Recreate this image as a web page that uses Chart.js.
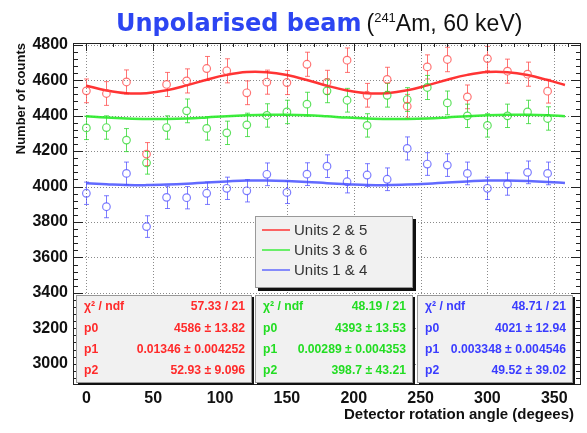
<!DOCTYPE html>
<html><head><meta charset="utf-8">
<script src="https://cdn.jsdelivr.net/npm/chart.js@4/dist/chart.umd.min.js"></script>
<style>
html,body{margin:0;padding:0;background:#fff;}
#wrap{position:relative;width:587px;height:433px;overflow:hidden;}
#title{position:absolute;left:116px;top:8px;white-space:nowrap;line-height:30px;}
#title .t1{font-family:'DejaVu Sans';font-weight:bold;font-size:24px;color:#2c45f2;}
#title .t2{font-family:'Liberation Sans';font-size:23px;color:#111;margin-left:5px;}
#title sup{font-size:13px;vertical-align:9px;line-height:0;}
</style></head><body>
<div id="wrap"><canvas id="c" width="587" height="433"></canvas>
<div id="title"><span class="t1">Unpolarised beam</span><span class="t2">(<sup>241</sup>Am, 60 keV)</span></div></div>
<script>
// ---- data ----
const angles = [0,15,30,45,60,75,90,105,120,135,150,165,180,195,210,225,240,255,270,285,300,315,330,345];
const countsUnits25 = [4540,4525,4590,4183,4576,4596,4666,4653,4529,4589,4587,4690,4588,4713,4515,4605,4453,4675,4717,4506,4722,4651,4634,4538];
const countsUnits36 = [4331,4333,4262,4134,4333,4427,4328,4303,4348,4401,4421,4465,4540,4487,4345,4515,4491,4559,4472,4399,4345,4399,4421,4384];
const countsUnits14 = [3962,3886,4074,3774,3939,3937,3962,3990,3976,4069,3967,4070,4115,4027,4065,4041,4215,4127,4121,4074,3990,4014,4080,4074];
const errUnits25 = [67,67,68,65,68,68,68,68,67,68,68,68,68,69,67,68,67,68,69,67,69,68,68,67];
const errUnits36 = [66,66,65,64,66,67,66,66,66,66,66,67,67,67,66,67,67,68,67,66,66,66,66,66];
const errUnits14 = [63,62,64,61,63,63,63,63,63,64,63,64,64,63,64,64,65,64,64,64,63,63,64,64];
// fitted curves
const fitAngles = [0,15,30,45,60,75,90,105,120,135,150,165,180,195,210,225,240,255,270,285,300,315,330,345,358];
const fitUnits25 = [4569,4542,4526,4527,4543,4571,4603,4630,4646,4645,4629,4601,4569,4542,4526,4527,4543,4571,4603,4630,4646,4645,4629,4601,4573];
const fitUnits36 = [4396,4389,4384,4381,4381,4384,4390,4397,4402,4405,4405,4402,4396,4389,4384,4381,4381,4384,4390,4397,4402,4405,4405,4402,4397];
const fitUnits14 = [4019,4013,4008,4008,4011,4016,4023,4029,4034,4034,4031,4026,4019,4013,4008,4008,4011,4016,4023,4029,4034,4034,4031,4026,4020];
const xTicks = [0,50,100,150,200,250,300,350];
const yTicks = [3000,3200,3400,3600,3800,4000,4200,4400,4600,4800];
const xTitle = 'Detector rotation angle (degees)';
const legendLabels = ['Units 2 & 5','Units 3 & 6','Units 1 & 4'];
const statNames = ['\u03C7\u00B2 / ndf','p0','p1','p2'];
const statsUnits25 = ['57.33 / 21','4586 \u00B1 13.82','0.01346 \u00B1 0.004252','52.93 \u00B1 9.096'];
const statsUnits36 = ['48.19 / 21','4393 \u00B1 13.53','0.00289 \u00B1 0.004353','398.7 \u00B1 43.21'];
const statsUnits14 = ['48.71 / 21','4021 \u00B1 12.94','0.003348 \u00B1 0.004546','49.52 \u00B1 39.02'];

// ---- styles ----
const C = {
  red:   {pt:'rgba(255,70,70,0.75)', line:'rgba(255,30,30,0.9)', text:'#ff2a2a'},
  green: {pt:'rgba(40,215,40,0.75)', line:'rgba(40,235,40,0.9)', text:'#22dd22'},
  blue:  {pt:'rgba(70,70,255,0.7)',  line:'rgba(70,80,255,0.85)', text:'#3a3cff'}
};
const series = [
  {vals:countsUnits25, errs:errUnits25, fit:fitUnits25, c:C.red},
  {vals:countsUnits36, errs:errUnits36, fit:fitUnits36, c:C.green},
  {vals:countsUnits14, errs:errUnits14, fit:fitUnits14, c:C.blue}
];
const PR = 3.8;

const datasets = [];
series.forEach(s => {
  datasets.push({type:'line', data: fitAngles.map((x,i)=>({x, y:s.fit[i]})), borderColor:s.c.line,
    borderWidth:2.5, pointRadius:0, tension:0.4, fill:false, order:2});
});
series.forEach(s => {
  datasets.push({type:'scatter', data: angles.map((x,i)=>({x, y:s.vals[i]})), borderColor:s.c.pt,
    backgroundColor:'rgba(0,0,0,0)', borderWidth:1.2, pointRadius:PR, pointHoverRadius:PR, showLine:false, order:1});
});

const gridAndBars = {
  id:'gridAndBars',
  beforeDatasetsDraw(chart){
    const ctx = chart.ctx, a = chart.chartArea, xs = chart.scales.x, ys = chart.scales.y;
    ctx.save();
    // dotted grid at major ticks
    ctx.strokeStyle = '#8a8a8a'; ctx.lineWidth = 1; ctx.setLineDash([1,2]);
    ctx.beginPath();
    xs.ticks.forEach(t => {
      const px = Math.round(xs.getPixelForValue(t.value)) + 0.5;
      ctx.moveTo(px, a.top); ctx.lineTo(px, a.bottom);
    });
    ys.ticks.forEach(t => {
      const py = Math.round(ys.getPixelForValue(t.value)) + 0.5;
      ctx.moveTo(a.left, py); ctx.lineTo(a.right, py);
    });
    ctx.stroke();
    ctx.setLineDash([]);
    // error bars
    series.forEach(s => {
      ctx.strokeStyle = s.c.pt;
      angles.forEach((ang,i) => {
        const px = Math.round(xs.getPixelForValue(ang)) + 0.5;
        const py = ys.getPixelForValue(s.vals[i]);
        const yt = ys.getPixelForValue(s.vals[i] + s.errs[i]);
        const yb = ys.getPixelForValue(s.vals[i] - s.errs[i]);
        ctx.beginPath();
        ctx.moveTo(px, yt); ctx.lineTo(px, py - PR);
        ctx.moveTo(px, py + PR); ctx.lineTo(px, yb);
        ctx.moveTo(px - 2.5, yt); ctx.lineTo(px + 2.5, yt);
        ctx.moveTo(px - 2.5, yb); ctx.lineTo(px + 2.5, yb);
        ctx.stroke();
      });
    });
    ctx.restore();
  }
};

const frame = {
  id:'frame',
  afterDatasetsDraw(chart){
    const ctx = chart.ctx, a = chart.chartArea, xs = chart.scales.x, ys = chart.scales.y;
    ctx.save();
    ctx.strokeStyle = '#222'; ctx.lineWidth = 1;
    ctx.strokeRect(a.left + 0.5, a.top + 0.5, a.right - a.left - 1, a.bottom - a.top - 1);
    ctx.beginPath();
    for (let v = 0; v <= 360; v += 10) {
      const px = Math.round(xs.getPixelForValue(v)) + 0.5;
      const L = (v % 50 === 0) ? 8 : 4;
      ctx.moveTo(px, a.top); ctx.lineTo(px, a.top + L);
      ctx.moveTo(px, a.bottom); ctx.lineTo(px, a.bottom - L);
    }
    for (let v = 2920; v <= 4800; v += 40) {
      const py = Math.round(ys.getPixelForValue(v)) + 0.5;
      const L = (v % 200 === 0) ? 10 : 5;
      ctx.moveTo(a.left, py); ctx.lineTo(a.left + L, py);
      ctx.moveTo(a.right, py); ctx.lineTo(a.right - L, py);
    }
    ctx.stroke();
    ctx.restore();
  }
};

const overlays = {
  id:'overlays',
  afterDraw(chart){
    const ctx = chart.ctx;
    ctx.save();
    // x axis title
    ctx.font = 'bold 15px "Liberation Sans"';
    ctx.fillStyle = '#111'; ctx.textAlign = 'right'; ctx.textBaseline = 'middle';
    ctx.fillText(xTitle, 574, 415);
    // legend
    const lg = {x:255, y:216, w:158, h:72};
    ctx.fillStyle = '#111';
    ctx.fillRect(lg.x + 3, lg.y + 3, lg.w, lg.h);
    ctx.fillStyle = '#f1f1f1';
    ctx.fillRect(lg.x, lg.y, lg.w, lg.h);
    ctx.strokeStyle = '#999'; ctx.lineWidth = 1;
    ctx.strokeRect(lg.x + 0.5, lg.y + 0.5, lg.w - 1, lg.h - 1);
    ctx.font = '15px "Liberation Sans"';
    ctx.textBaseline = 'middle'; ctx.textAlign = 'left';
    legendLabels.forEach((t,i) => {
      const yy = lg.y + 14 + i * 20;
      ctx.strokeStyle = series[i].c.line; ctx.lineWidth = 1.5;
      ctx.beginPath(); ctx.moveTo(262, yy); ctx.lineTo(290, yy); ctx.stroke();
      ctx.fillStyle = '#333';
      ctx.fillText(t, 294, yy + 1);
    });
    // stats boxes
    const boxes = [
      {x:76, w:176, st:statsUnits25, c:C.red},
      {x:255, w:158, st:statsUnits36, c:C.green},
      {x:417, w:156, st:statsUnits14, c:C.blue}
    ];
    const by = 295, bh = 88;
    boxes.forEach(b => {
      ctx.fillStyle = '#111';
      ctx.fillRect(b.x + 2, by + 2, b.w, bh);
      ctx.fillStyle = '#f1f1f1';
      ctx.fillRect(b.x, by, b.w, bh);
      ctx.strokeStyle = '#999'; ctx.lineWidth = 1;
      ctx.strokeRect(b.x + 0.5, by + 0.5, b.w - 1, bh - 1);
      ctx.font = 'bold 12.2px "Liberation Sans"';
      ctx.fillStyle = b.c.text;
      statNames.forEach((n,i) => {
        const yy = by + 12 + i * 21.3;
        ctx.textAlign = 'left'; ctx.fillText(n, b.x + 8, yy);
        ctx.textAlign = 'right'; ctx.fillText(b.st[i], b.x + b.w - 7, yy);
      });
    });
    ctx.restore();
  }
};

new Chart(document.getElementById('c'), {
  type:'scatter',
  data:{datasets},
  options:{
    responsive:false, animation:false, devicePixelRatio:1,
    layout:{padding:{left:0, top:43, right:6, bottom:0}},
    plugins:{legend:{display:false}, tooltip:{enabled:false}, title:{display:false}},
    scales:{
      x:{type:'linear', min:-10, max:370,
        afterBuildTicks(s){ s.ticks = xTicks.map(v=>({value:v})); },
        afterFit(s){ s.height = 48; },
        grid:{display:false, drawTicks:false, tickLength:0},
        border:{display:false},
        ticks:{padding:4, color:'#111', maxRotation:0, autoSkip:false, callback:v=>String(v),
          font:{family:'Liberation Sans', weight:'bold', size:16}},
        title:{display:false}
      },
      y:{type:'linear', min:2880, max:4810,
        afterBuildTicks(s){ s.ticks = yTicks.map(v=>({value:v})); },
        afterFit(s){ s.width = 73; },
        grid:{display:false, drawTicks:false, tickLength:0},
        border:{display:false},
        ticks:{padding:5, color:'#111', autoSkip:false, callback:v=>String(v),
          font:{family:'Liberation Sans', weight:'bold', size:16}},
        title:{display:true, text:'Number of counts', align:'end', color:'#111',
          font:{family:'Liberation Sans', weight:'bold', size:13}, padding:{top:14, bottom:0}}
      }
    }
  },
  plugins:[gridAndBars, frame, overlays]
});
</script>
</body></html>
